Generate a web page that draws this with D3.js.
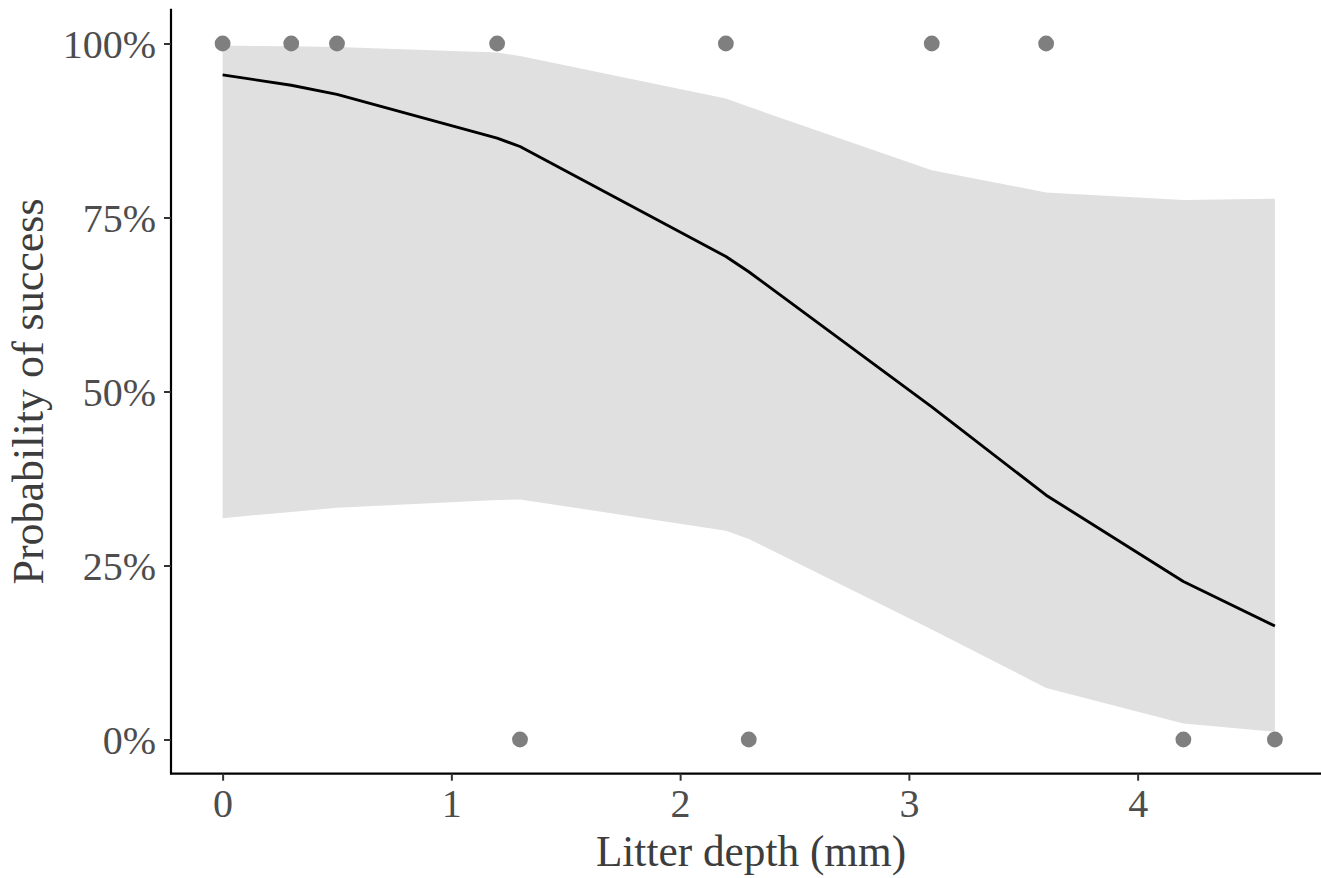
<!DOCTYPE html>
<html>
<head>
<meta charset="utf-8">
<script src="https://cdn.jsdelivr.net/npm/d3@7"></script>
<style>
  html, body { margin: 0; padding: 0; background: #fff; }
  svg { display: block; }
</style>
</head>
<body>
<svg id="chart" width="1321" height="878"></svg>
<script>
// Observed data
const obsDepth   = [0, 0.3, 0.5, 1.2, 2.2, 3.1, 3.6, 1.3, 2.3, 4.2, 4.6];
const obsSuccess = [1, 1, 1, 1, 1, 1, 1, 0, 0, 0, 0];

// Fitted curve and confidence band (evaluated at observed depths)
const fitDepth = [0, 0.3, 0.5, 1.2, 1.3, 2.2, 2.3, 3.1, 3.6, 4.2, 4.6];
const fitProb  = [0.955, 0.940, 0.927, 0.864, 0.852, 0.694, 0.672, 0.478, 0.351, 0.227, 0.163];
const fitLower = [0.318, 0.327, 0.333, 0.344, 0.345, 0.300, 0.288, 0.158, 0.074, 0.023, 0.011];
const fitUpper = [0.997, 0.996, 0.995, 0.987, 0.982, 0.921, 0.909, 0.818, 0.786, 0.775, 0.777];

const xTicks = [0, 1, 2, 3, 4];
const yTicks = [0, 0.25, 0.5, 0.75, 1];
const yTickLabels = ["0%", "25%", "50%", "75%", "100%"];

const svg = d3.select("#chart");
const x = d3.scaleLinear().domain([-0.23, 4.83]).range([170, 1327.5]);
const y = d3.scaleLinear().domain([-0.05, 1.05]).range([774.3, 8.7]);

const band = fitDepth.map((d, i) => ({x: d, lo: fitLower[i], hi: fitUpper[i], p: fitProb[i]}));

svg.append("path")
  .datum(band)
  .attr("fill", "#e0e0e0")
  .attr("d", d3.area().x(d => x(d.x)).y0(d => y(d.lo)).y1(d => y(d.hi)));

svg.append("path")
  .datum(band)
  .attr("fill", "none")
  .attr("stroke", "#000")
  .attr("stroke-width", 2.9)
  .attr("stroke-linejoin", "round")
  .attr("d", d3.line().x(d => x(d.x)).y(d => y(d.p)));

svg.append("g").selectAll("circle")
  .data(obsDepth.map((d, i) => ({x: d, y: obsSuccess[i]})))
  .join("circle")
  .attr("cx", d => x(d.x))
  .attr("cy", d => y(d.y))
  .attr("r", 7.9)
  .attr("fill", "#7f7f7f");

const font = "'Liberation Serif', 'Times New Roman', serif";

// Y axis
const yAxis = svg.append("g").attr("transform", "translate(171,0)")
  .call(d3.axisLeft(y).tickValues(yTicks).tickFormat((d, i) => yTickLabels[i]).tickSize(7).tickPadding(8));
yAxis.select(".domain").attr("d", `M0,${y(-0.05)}V${y(1.05)}`).attr("stroke", "#000").attr("stroke-width", 2.2);
yAxis.selectAll(".tick line").attr("stroke", "#333").attr("stroke-width", 2);
yAxis.selectAll(".tick text")
  .attr("font-family", font).attr("font-size", 40).attr("fill", "#4d4d4d")
  .attr("dy", "0.36em");

// X axis
const xAxis = svg.append("g").attr("transform", "translate(0,773.7)")
  .call(d3.axisBottom(x).tickValues(xTicks).tickFormat(d3.format("d")).tickSize(7).tickPadding(8));
xAxis.select(".domain").attr("d", `M${x(-0.23)},0H1321`).attr("stroke", "#000").attr("stroke-width", 2.2);
xAxis.selectAll(".tick line").attr("stroke", "#333").attr("stroke-width", 2);
xAxis.selectAll(".tick text")
  .attr("font-family", font).attr("font-size", 40).attr("fill", "#4d4d4d")
  .attr("dy", "0.71em");

// Titles
svg.append("text")
  .attr("x", 751).attr("y", 866)
  .attr("text-anchor", "middle")
  .attr("font-family", font).attr("font-size", 43.3).attr("fill", "#3d3d3d")
  .text("Litter depth (mm)");

svg.append("text")
  .attr("transform", `translate(43,${(y(-0.05) + y(1.05)) / 2}) rotate(-90)`)
  .attr("text-anchor", "middle")
  .attr("font-family", font).attr("font-size", 44).attr("fill", "#3d3d3d")
  .text("Probability of success");
</script>
</body>
</html>
